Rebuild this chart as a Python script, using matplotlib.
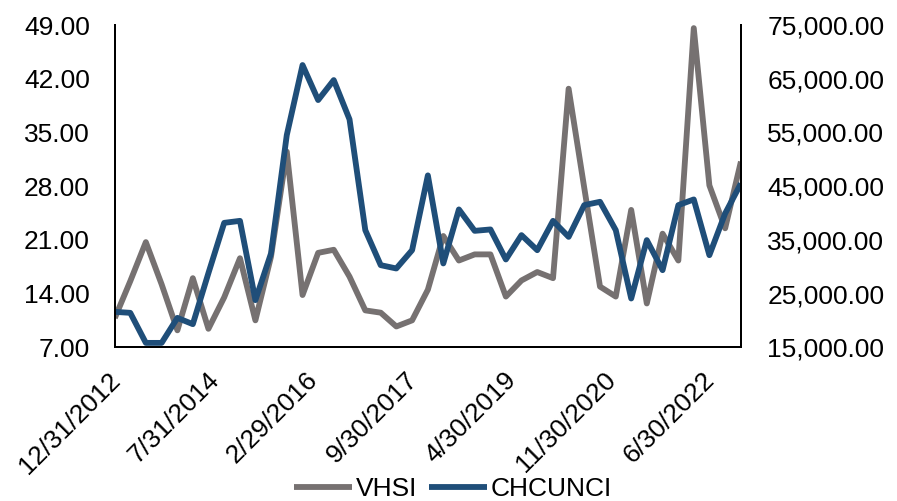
import numpy as np
import pandas as pd
import matplotlib
matplotlib.use("Agg")
import matplotlib.pyplot as plt
from matplotlib.transforms import ScaledTranslation

plt.rcParams['font.family'] = ['Liberation Sans', 'DejaVu Sans']

# Quarter-end dates, Q4 2012 .. Q4 2022
dates = pd.date_range('2012-12-31', '2022-12-31', freq='QE')

vhsi = [10.8, 15.6, 20.7, 15.2, 9.2, 16.0, 9.4, 13.5, 18.6, 10.5,
        18.8, 32.5, 13.8, 19.3, 19.7, 16.2, 11.8, 11.5, 9.7, 10.5,
        14.5, 21.5, 18.3, 19.1, 19.1, 13.6, 15.7, 16.8, 16.0, 40.7,
        27.8, 14.9, 13.6, 24.9, 12.7, 21.8, 18.3, 48.6, 28.1, 22.5,
        31.2]

chcunci = [21580, 21400, 15800, 15800, 20460, 19290, 28800, 38160, 38530, 23760,
           32460, 54500, 67550, 61030, 64750, 57430, 36800, 30280, 29660, 33070,
           47000, 30600, 40660, 36670, 36930, 31340, 35870, 33070, 38530, 35550,
           41460, 42080, 36800, 24070, 34940, 29350, 41460, 42520, 32140, 39910,
           45500]

tick_dates = ['2012-12-31', '2014-07-31', '2016-02-29', '2017-09-30',
              '2019-04-30', '2020-11-30', '2022-06-30']
tick_labels = ['12/31/2012', '7/31/2014', '2/29/2016', '9/30/2017',
               '4/30/2019', '11/30/2020', '6/30/2022']

gray = '#767171'
blue = '#1F4E79'

fig = plt.figure(figsize=(8.97, 5.01), dpi=100)
ax = fig.add_axes([0.128, 0.307, 0.698, 0.643])
ax2 = ax.twinx()

l1, = ax.plot(dates, vhsi, color=gray, lw=4.2, solid_joinstyle='round',
              solid_capstyle='butt', label='VHSI')
l2, = ax2.plot(dates, chcunci, color=blue, lw=4.2, solid_joinstyle='round',
               solid_capstyle='butt', label='CHCUNCI')

ax.set_xlim(dates[0], dates[-1])
ax.set_ylim(7, 49)
ax.set_yticks(np.arange(7, 50, 7))
ax.yaxis.set_major_formatter(matplotlib.ticker.StrMethodFormatter('{x:.2f}'))
ax2.set_ylim(15000, 75000)
ax2.set_yticks(np.arange(15000, 75001, 10000))
ax2.yaxis.set_major_formatter(matplotlib.ticker.StrMethodFormatter('{x:,.2f}'))

ax.set_xticks(pd.to_datetime(tick_dates))
ax.set_xticklabels(tick_labels, rotation=45, ha='right', rotation_mode='anchor')

for a in (ax, ax2):
    a.tick_params(length=0, labelsize=19)
    a.spines['top'].set_visible(False)
    for s in ('left', 'right', 'bottom'):
        a.spines[s].set_linewidth(1.4)
ax.tick_params(axis='y', pad=18)
ax2.tick_params(axis='y', pad=19)
ax.tick_params(axis='x', pad=12)

# nudge the slanted date labels left
shift = ScaledTranslation(-7 / 100, -4 / 100, fig.dpi_scale_trans)
for lbl in ax.get_xticklabels():
    lbl.set_transform(lbl.get_transform() + shift)

fig.legend([l1, l2], ['VHSI', 'CHCUNCI'], loc='center', bbox_to_anchor=(0.505, 0.024),
           ncol=2, frameon=False, fontsize=19, handlelength=2.2, handletextpad=0.15,
           columnspacing=0.45, borderpad=0)

fig.savefig('out.png', dpi=100)
